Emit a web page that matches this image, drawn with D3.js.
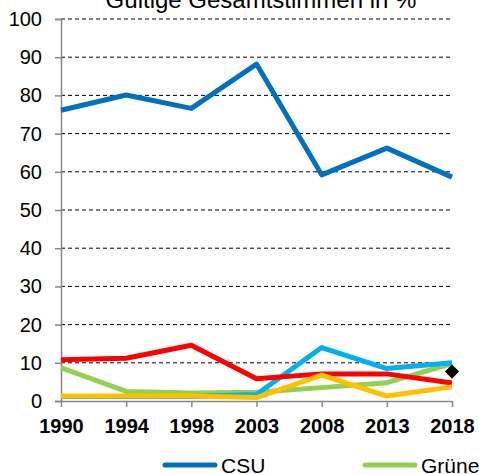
<!DOCTYPE html>
<html><head><meta charset="utf-8">
<script src="https://cdn.jsdelivr.net/npm/d3@7"></script>
<style>body{margin:0;background:#fff}svg{display:block;font-family:"Liberation Sans",Arial,sans-serif}</style>
</head><body>
<svg id="c" width="479" height="474"></svg>
<script>
const years = ["1990","1994","1998","2003","2008","2013","2018"];
const csu   = [76.1, 80.1, 76.6, 88.2, 59.2, 66.2, 58.6];
const gruene= [8.7, 2.5, 2.1, 2.3, 3.5, 4.8, 9.8];
const fw    = [1.2, 1.2, 1.2, 1.7, 14.0, 8.5, 10.0];
const spd   = [10.8, 11.2, 14.6, 5.8, 7.1, 7.1, 4.7];
const fdp   = [1.3, 1.3, 1.3, 0.9, 6.8, 1.3, 3.7];
const afd   = [{year:"2018", value:7.7}];
const yTicks = [0,10,20,30,40,50,60,70,80,90,100];
const title = "Gültige Gesamtstimmen in %";
const legendItems = [{name:"CSU", color:"#0070C0"},{name:"Grüne", color:"#92D050"}];
const FONT = "'Liberation Sans', Arial, sans-serif";

const series = [
  {name:"CSU", values:csu, color:"#0070C0"},
  {name:"Grüne", values:gruene, color:"#92D050"},
  {name:"FW", values:fw, color:"#00B0F0"},
  {name:"SPD", values:spd, color:"#FF0000"},
  {name:"FDP", values:fdp, color:"#FFC000"}
];

const svg = d3.select("#c");
const x = d3.scalePoint().domain(years).range([61, 452]);
const y = d3.scaleLinear().domain([0,100]).range([401, 19]);

// gridlines
svg.append("g").selectAll("line").data(yTicks.filter(d=>d>0)).join("line")
  .attr("x1", 61).attr("x2", 452)
  .attr("y1", d=>y(d)).attr("y2", d=>y(d))
  .attr("stroke", "#000").attr("stroke-width", 1).attr("stroke-dasharray", "4,3");

// y axis
const ya = svg.append("g").attr("transform","translate(61,0)")
  .call(d3.axisLeft(y).tickValues(yTicks).tickSize(6).tickPadding(13).tickFormat(d3.format("d")));
ya.attr("font-family", FONT);
ya.select(".domain").attr("stroke","#868686").attr("stroke-width",1.5);
ya.selectAll(".tick line").attr("stroke","#868686").attr("stroke-width",1.5);
ya.selectAll("text").attr("font-size", 20).attr("fill","#000");

// x axis
const xa = svg.append("g").attr("transform","translate(0,401)")
  .call(d3.axisBottom(x).tickSize(6).tickPadding(12).tickSizeOuter(0));
xa.attr("font-family", FONT);
xa.select(".domain").attr("stroke","#868686").attr("stroke-width",1.5);
xa.selectAll(".tick line").attr("stroke","#868686").attr("stroke-width",1.5);
xa.selectAll("text").attr("font-size", 20).attr("font-weight","bold").attr("fill","#000");

// lines
const line = d3.line().x((d,i)=>x(years[i])).y(d=>y(d));
svg.append("g").selectAll("path").data(series).join("path")
  .attr("d", d=>line(d.values))
  .attr("fill","none").attr("stroke", d=>d.color).attr("stroke-width",5)
  .attr("stroke-linejoin","round");

// AfD diamond
svg.append("g").selectAll("path").data(afd).join("path")
  .attr("transform", d=>`translate(${x(d.year)},${y(d.value)})`)
  .attr("d", d3.symbol().type(d3.symbolDiamond2).size(128)())
  .attr("fill","#000");

// title
svg.append("text").attr("x", 261).attr("y", 8).attr("text-anchor","middle")
  .attr("font-family", FONT).attr("font-size", 24).attr("fill","#000").text(title);

// legend
const lg = svg.append("g").attr("font-family", FONT).selectAll("g").data(legendItems).join("g")
  .attr("transform", (d,i)=>`translate(${165 + i*200},465)`);
lg.append("line").attr("x1",0).attr("x2",50).attr("y1",0).attr("y2",0)
  .attr("stroke", d=>d.color).attr("stroke-width",5).attr("stroke-linecap","round");
lg.append("text").attr("x",56).attr("y",7.5).attr("font-size",21).attr("fill","#000").text(d=>d.name);
</script>
</body></html>
